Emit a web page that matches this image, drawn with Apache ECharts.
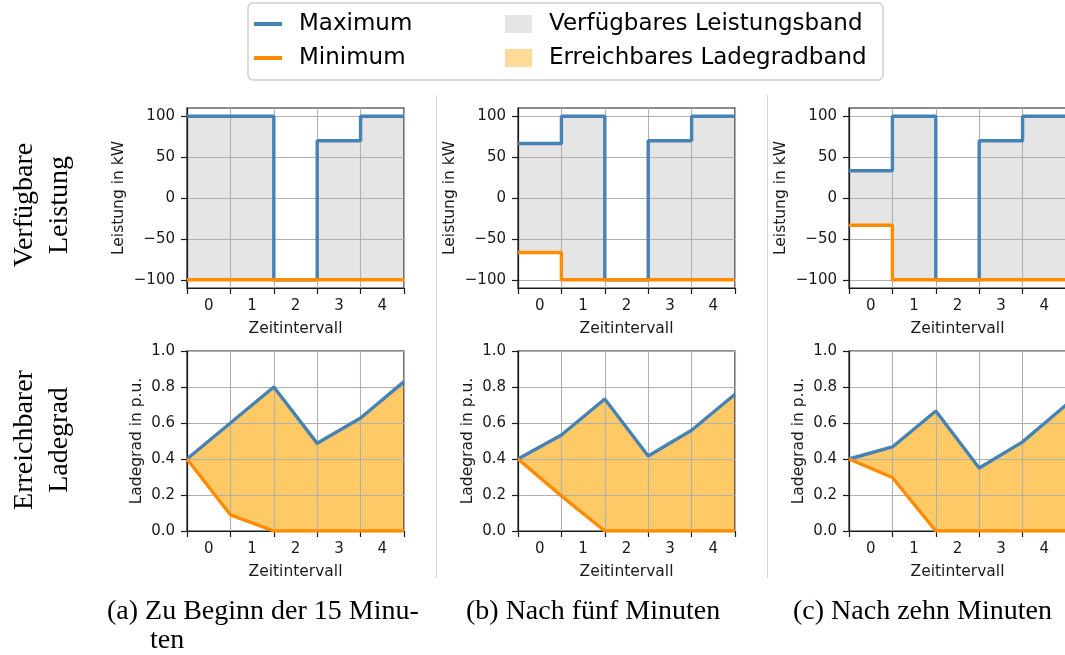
<!DOCTYPE html>
<html>
<head>
<meta charset="utf-8">
<script src="https://cdn.jsdelivr.net/npm/echarts@6/dist/echarts.min.js"></script>
<style>
  html, body { margin: 0; padding: 0; background: #ffffff; }
  #chart { width: 1065px; height: 655px; }
</style>
</head>
<body>
<div id="chart"></div>
<script>
// Time intervals (category labels) and interval boundaries (value axis)
const intervals = ['0', '1', '2', '3', '4'];
const boundaries = [0, 1, 2, 3, 4, 5];
const powerTicks = [-100, -50, 0, 50, 100];
const socTicks = [0, 0.2, 0.4, 0.6, 0.8, 1.0];

// Verfügbare Leistung in kW, one value per interval
const powerMaxA = [100, 100, -100, 70, 100];
const powerMinA = [-100, -100, -100, -100, -100];
const powerMaxB = [66.7, 100, -100, 70, 100];
const powerMinB = [-66.7, -100, -100, -100, -100];
const powerMaxC = [33.3, 100, -100, 70, 100];
const powerMinC = [-33.3, -100, -100, -100, -100];

// Erreichbarer Ladegrad in p.u., one value per interval boundary
const socMaxA = [0.4, 0.6, 0.8, 0.487, 0.628, 0.83];
const socMinA = [0.4, 0.09, 0, 0, 0, 0];
const socMaxB = [0.4, 0.533, 0.733, 0.417, 0.56, 0.76];
const socMinB = [0.4, 0.195, 0, 0, 0, 0];
const socMaxC = [0.4, 0.467, 0.667, 0.35, 0.495, 0.70];
const socMinC = [0.4, 0.297, 0, 0, 0, 0];

const captionsFirst = ['(a) Zu Beginn der 15 Minu-', '(b) Nach fünf Minuten', '(c) Nach zehn Minuten'];
const captionsSecond = ['ten', '', ''];
const rowTitles = ['Verfügbare\nLeistung', 'Erreichbarer\nLadegrad'];

const FONT = 'DejaVu Sans';
const SERIF = '"Liberation Serif", "DejaVu Serif", serif';
const INK = '#1a1a1a';
const GRIDLINE = '#b0b0b0';
const C_MAX = '#4682b4';
const C_MIN = '#ff8c00';
const C_POWER = '#e5e5e5';
const C_SOC = '#ffc966';
const C_SOC_LEGEND = '#ffdb99';
const LINE_W = 3.4;
const TICK_FS = 15;
const NAME_FS = 15.5;

const COL_LEFT = [187, 518, 849];
const ROW_TOP = [108, 351];
const PANEL_W = 217;
const PANEL_H = 180;

const grids = [], xAxes = [], yAxes = [], series = [];
const minusFmt = v => (v < 0 ? '\u2212' + Math.abs(v) : String(v));

function addAxes(row, col) {
  const g = grids.length;
  grids.push({
    left: COL_LEFT[col], top: ROW_TOP[row], width: PANEL_W, height: PANEL_H,
    show: true, borderColor: INK, borderWidth: 1.2, backgroundColor: 'rgba(0,0,0,0)',
    containLabel: false, outerBoundsMode: 'none'
  });
  const xi = xAxes.length;
  // boundaries: ticks + vertical grid lines
  xAxes.push({
    type: 'value', gridIndex: g, min: boundaries[0], max: boundaries[boundaries.length - 1], interval: 1,
    axisLine: { show: true, onZero: false, lineStyle: { color: INK, width: 1.2 } },
    axisTick: { show: true, length: 6, lineStyle: { color: INK, width: 1.2 } },
    axisLabel: { show: false },
    splitLine: { show: true, lineStyle: { color: GRIDLINE, width: 1.1 } }
  });
  // interval labels centred between the boundaries
  xAxes.push({
    type: 'category', gridIndex: g, position: 'bottom', data: intervals,
    axisLine: { show: false, onZero: false }, axisTick: { show: false }, splitLine: { show: false },
    axisLabel: { margin: 11, fontSize: TICK_FS, fontFamily: FONT, color: INK },
    name: 'Zeitintervall', nameLocation: 'middle', nameGap: 33,
    nameTextStyle: { fontSize: NAME_FS, fontFamily: FONT, color: INK }
  });
  const yi = yAxes.length;
  if (row === 0) {
    yAxes.push({
      type: 'value', gridIndex: g, min: -110, max: 110,
      axisLine: { show: true, onZero: false, lineStyle: { color: INK, width: 1.2 } },
      axisTick: { show: true, length: 6, customValues: powerTicks, lineStyle: { color: INK, width: 1.2 } },
      axisLabel: { customValues: powerTicks, formatter: minusFmt, margin: 12, fontSize: TICK_FS, fontFamily: FONT, color: INK },
      splitLine: { show: true, lineStyle: { color: GRIDLINE, width: 1.1 } },
      name: 'Leistung in kW', nameLocation: 'middle', nameGap: 60,
      nameTextStyle: { fontSize: NAME_FS, fontFamily: FONT, color: INK }
    });
  } else {
    yAxes.push({
      type: 'value', gridIndex: g, min: socTicks[0], max: socTicks[socTicks.length - 1], interval: 0.2,
      axisLine: { show: true, onZero: false, lineStyle: { color: INK, width: 1.2 } },
      axisTick: { show: true, length: 6, lineStyle: { color: INK, width: 1.2 } },
      axisLabel: { formatter: v => v.toFixed(1), margin: 12, fontSize: TICK_FS, fontFamily: FONT, color: INK },
      splitLine: { show: true, lineStyle: { color: GRIDLINE, width: 1.1 } },
      name: 'Ladegrad in p.u.', nameLocation: 'middle', nameGap: 42,
      nameTextStyle: { fontSize: NAME_FS, fontFamily: FONT, color: INK }
    });
  }
  return { xi, yi };
}

function lineSeries(name, color, data, xi, yi, z, step) {
  return {
    type: 'line', name, xAxisIndex: xi, yAxisIndex: yi, data, step: step || false,
    symbol: 'none', showSymbol: false, z, silent: true, animation: false,
    lineStyle: { color, width: LINE_W }, itemStyle: { color }
  };
}

function powerPanel(col, maxVals, minVals) {
  const { xi, yi } = addAxes(0, col);
  const stepData = vals => vals.map((v, i) => [boundaries[i], v])
    .concat([[boundaries[vals.length], vals[vals.length - 1]]]);
  series.push({
    type: 'custom', name: 'Verfügbares Leistungsband', xAxisIndex: xi, yAxisIndex: yi, z: -1,
    silent: true, animation: false, itemStyle: { color: C_POWER },
    data: maxVals.map((v, i) => [boundaries[i], minVals[i], v]),
    encode: { x: 0, y: [1, 2] },
    renderItem: (params, api) => {
      const i = params.dataIndex;
      const a = api.coord([boundaries[i], api.value(2)]);
      const b = api.coord([boundaries[i + 1], api.value(1)]);
      return { type: 'rect', shape: { x: a[0], y: a[1], width: b[0] - a[0], height: b[1] - a[1] }, style: { fill: C_POWER } };
    }
  });
  series.push(lineSeries('Maximum', C_MAX, stepData(maxVals), xi, yi, 3, 'end'));
  series.push(lineSeries('Minimum', C_MIN, stepData(minVals), xi, yi, 4, 'end'));
}

function socPanel(col, maxVals, minVals) {
  const { xi, yi } = addAxes(1, col);
  series.push({
    type: 'custom', name: 'Erreichbares Ladegradband', xAxisIndex: xi, yAxisIndex: yi, z: -1,
    silent: true, animation: false, itemStyle: { color: C_SOC },
    data: [[boundaries[0], minVals[0]]],
    encode: { x: 0, y: 1 },
    renderItem: (params, api) => {
      const upper = boundaries.map((x, i) => api.coord([x, maxVals[i]]));
      const lower = boundaries.map((x, i) => api.coord([x, minVals[i]])).reverse();
      return { type: 'polygon', shape: { points: upper.concat(lower) }, style: { fill: C_SOC } };
    }
  });
  series.push(lineSeries('Maximum', C_MAX, boundaries.map((x, i) => [x, maxVals[i]]), xi, yi, 3));
  series.push(lineSeries('Minimum', C_MIN, boundaries.map((x, i) => [x, minVals[i]]), xi, yi, 4));
}

powerPanel(0, powerMaxA, powerMinA);
powerPanel(1, powerMaxB, powerMinB);
powerPanel(2, powerMaxC, powerMinC);
socPanel(0, socMaxA, socMinA);
socPanel(1, socMaxB, socMinB);
socPanel(2, socMaxC, socMinC);

const legendText = { fontSize: 23, fontFamily: FONT, color: '#000', lineHeight: 24, padding: [0, 0, 0, 12] };

const graphics = [
  // legend frame
  { type: 'rect', shape: { x: 248, y: 3, width: 635, height: 77, r: 5 }, style: { fill: '#fff', stroke: '#d0d0d0', lineWidth: 1.5 }, z: -10, silent: true },
  // sub-figure separators
  { type: 'line', shape: { x1: 436.5, y1: 95, x2: 436.5, y2: 578 }, style: { stroke: '#d4d4d4', lineWidth: 1 }, silent: true },
  { type: 'line', shape: { x1: 767.5, y1: 95, x2: 767.5, y2: 578 }, style: { stroke: '#d4d4d4', lineWidth: 1 }, silent: true }
];
// row titles
[205, 440].forEach((cy, r) => {
  graphics.push({
    type: 'text', x: 42, y: cy, rotation: Math.PI / 2, silent: true,
    style: { text: rowTitles[r], font: '28px ' + SERIF, fill: '#000', align: 'center', verticalAlign: 'middle', lineHeight: 35 }
  });
});
// captions
const capLeft = [107, 466, 793];
capLeft.forEach((x, i) => {
  graphics.push({ type: 'text', x, y: 612, silent: true,
    style: { text: captionsFirst[i], font: '28px ' + SERIF, fill: '#000', align: 'left', verticalAlign: 'middle' } });
  if (captionsSecond[i]) {
    graphics.push({ type: 'text', x: x + 43, y: 641, silent: true,
      style: { text: captionsSecond[i], font: '28px ' + SERIF, fill: '#000', align: 'left', verticalAlign: 'middle' } });
  }
});

const chart = echarts.init(document.getElementById('chart'), null, { renderer: 'canvas' });
chart.setOption({
  animation: false,
  backgroundColor: '#ffffff',
  grid: grids,
  xAxis: xAxes,
  yAxis: yAxes,
  legend: [
    {
      left: 254, top: 12, orient: 'vertical', padding: 0, itemGap: 10, itemWidth: 28, itemHeight: 4,
      selectedMode: false, textStyle: legendText,
      data: [{ name: 'Maximum', icon: 'rect' }, { name: 'Minimum', icon: 'rect' }]
    },
    {
      left: 505, top: 12, orient: 'vertical', padding: 0, itemGap: 10, itemWidth: 27, itemHeight: 18,
      selectedMode: false, textStyle: legendText,
      data: [
        { name: 'Verfügbares Leistungsband', icon: 'rect', itemStyle: { color: C_POWER } },
        { name: 'Erreichbares Ladegradband', icon: 'rect', itemStyle: { color: C_SOC_LEGEND } }
      ]
    }
  ],
  graphic: graphics,
  series
});
</script>
</body>
</html>
